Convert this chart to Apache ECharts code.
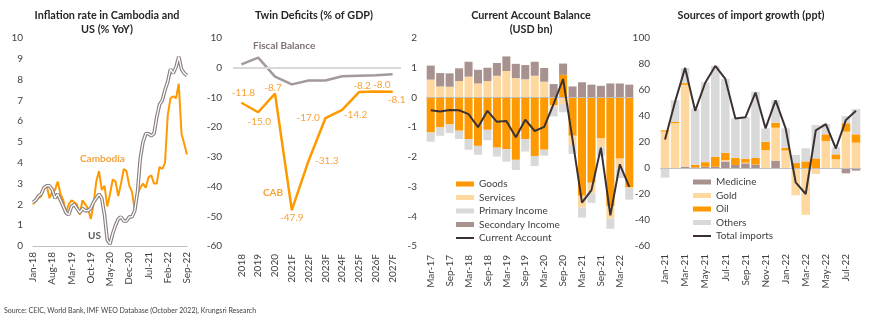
<!DOCTYPE html>
<html><head><meta charset="utf-8">
<script src="https://cdn.jsdelivr.net/npm/echarts@6/dist/echarts.min.js"></script>
<style>html,body{margin:0;padding:0;background:#fff}#c{width:870px;height:322px}</style>
</head><body><div id="c"></div>
<script>
// ---------- Panel 1: inflation ----------
const months1 = ['Jan-18','Feb-18','Mar-18','Apr-18','May-18','Jun-18','Jul-18','Aug-18','Sep-18','Oct-18','Nov-18','Dec-18',
'Jan-19','Feb-19','Mar-19','Apr-19','May-19','Jun-19','Jul-19','Aug-19','Sep-19','Oct-19','Nov-19','Dec-19',
'Jan-20','Feb-20','Mar-20','Apr-20','May-20','Jun-20','Jul-20','Aug-20','Sep-20','Oct-20','Nov-20','Dec-20',
'Jan-21','Feb-21','Mar-21','Apr-21','May-21','Jun-21','Jul-21','Aug-21','Sep-21','Oct-21','Nov-21','Dec-21',
'Jan-22','Feb-22','Mar-22','Apr-22','May-22','Jun-22','Jul-22','Aug-22','Sep-22'];
const cambodiaCPI = [2.0,2.2,2.3,2.4,2.8,2.9,2.3,2.6,2.7,3.1,2.5,2.2,
 1.6,2.0,2.2,2.1,2.0,1.5,2.2,2.0,1.8,1.3,2.0,3.1,
 3.6,2.7,2.9,1.9,2.5,3.2,3.1,2.4,3.0,3.7,3.6,2.9,
 2.6,1.7,2.5,2.8,3.0,2.8,3.3,3.4,3.0,3.0,3.8,3.7,
 4.0,6.3,7.1,7.2,7.1,7.8,5.4,4.9,4.4];
const usCPI = [2.1,2.2,2.4,2.5,2.8,2.9,2.9,2.7,2.3,2.5,2.2,1.9,
 1.6,1.5,1.9,2.0,1.8,1.6,1.8,1.7,1.7,1.8,2.1,2.3,
 2.5,2.3,1.5,0.3,0.1,0.6,1.0,1.3,1.4,1.2,1.2,1.4,
 1.4,1.7,2.6,4.2,5.0,5.4,5.4,5.3,5.4,6.2,6.8,7.0,
 7.5,7.9,8.5,8.3,8.6,9.1,8.5,8.3,8.2];

// ---------- Panel 2: twin deficits ----------
const years2 = ['2018','2019','2020','2021F','2022F','2023F','2024F','2025F','2026F','2027F'];
const fiscalBalance = [1.1,3.4,-3.0,-5.6,-4.3,-4.3,-2.9,-2.7,-2.5,-2.2];
const cab = [-11.8,-15.0,-8.7,-47.9,-31.3,-17.0,-14.2,-8.2,-8.0,-8.1];

// ---------- Panel 3: current account ----------
const quarters3 = ['Mar-17','Jun-17','Sep-17','Dec-17','Mar-18','Jun-18','Sep-18','Dec-18','Mar-19','Jun-19','Sep-19','Dec-19',
'Mar-20','Jun-20','Sep-20','Dec-20','Mar-21','Jun-21','Sep-21','Dec-21','Mar-22','Jun-22'];
const goods = [-1.18,-1.01,-0.91,-1.12,-1.40,-1.63,-1.09,-1.69,-1.74,-2.10,-1.40,-1.97,-1.76,-0.26,0.76,-1.29,-3.31,-2.87,-1.38,-3.65,-2.06,-3.03];
const services = [0.60,0.37,0.36,0.55,0.70,0.47,0.55,0.73,0.89,0.65,0.61,0.73,0.53,-0.08,-0.22,-0.31,-0.39,-0.34,-0.30,-0.43,-0.33,-0.02];
const primaryIncome = [-0.31,-0.28,-0.29,-0.28,-0.36,-0.30,-0.35,-0.30,-0.42,-0.34,-0.42,-0.34,-0.20,-0.30,-0.28,-0.30,-0.34,-0.34,-0.30,-0.34,-0.32,-0.39];
const secondaryIncome = [0.47,0.45,0.45,0.43,0.50,0.46,0.45,0.43,0.49,0.48,0.48,0.47,0.46,0.45,0.38,0.37,0.51,0.43,0.39,0.47,0.47,0.43];
const currentAccount = [-0.43,-0.47,-0.42,-0.43,-0.56,-1.00,-0.45,-0.82,-0.79,-1.34,-0.75,-1.13,-0.99,-0.22,0.62,-1.42,-3.54,-3.12,-1.69,-3.97,-2.25,-3.01];

// ---------- Panel 4: import growth ----------
const months4 = ['Jan-21','Feb-21','Mar-21','Apr-21','May-21','Jun-21','Jul-21','Aug-21','Sep-21','Oct-21','Nov-21','Dec-21',
'Jan-22','Feb-22','Mar-22','Apr-22','May-22','Jun-22','Jul-22','Aug-22'];
const medicine = [0,0,1,0.5,1,1,5,2.3,3.6,2.6,0,5.6,0,0,0,0,0,0,-4.1,-2];
const gold = [28,34.4,63,0,0,0,1,0,0.5,0,13.8,25.4,13.5,-21,-36,-4.6,20.8,6.7,28,19.5];
const oil = [1,1,1.3,2,3.5,7.7,5.6,5.6,3,5.1,6.4,3.8,2,3.8,5.1,7.4,5.1,3.8,6.4,6.4];
const others = [-7.4,16.7,11.5,43,61.5,69.7,56.9,30.3,32,51,10.3,17.4,15,6.2,10.1,25.6,8,5.4,5.6,19.5];
const totalImports = [22,51,77,44,65.6,78.5,68.5,38,39,58,30.5,52,30.5,-11,-20,29,33.8,15,37,44];

// ---------- styling ----------
const F = 'Lato';
const ORANGE = '#ff9900', PEACH = '#ffd8a0', LGRAY = '#d9d9d9', MAUVE = '#a8928f', DARK = '#3b3131';
const txt = '#404040';
const G = [
  {left:33, top:38, width:154, height:208},
  {left:233, top:38, width:168, height:208},
  {left:426, top:38, width:208, height:208},
  {left:660, top:38, width:201, height:208}
];
function xAx(i, data, interval, margin, bg){
  return {type:'category', gridIndex:i, data:data, boundaryGap:bg,
    axisLine:{show:i===0, lineStyle:{color:'#bfbfbf', width:1}}, axisTick:{show:false},
    axisLabel:{rotate:90, interval:interval, margin:margin, fontSize:10, color:txt, fontFamily:F}};
}
function yAx(i, min, max, interval, margin){
  return {type:'value', gridIndex:i, min:min, max:max, interval:interval,
    axisLine:{show:false}, axisTick:{show:false}, splitLine:{show:false},
    axisLabel:{margin:margin, fontSize:10, color:txt, fontFamily:F}};
}
function zeroLine(color, width){
  return {silent:true, symbol:['none','none'], label:{show:false}, lineStyle:{color:color, width:width, type:'solid'}, data:[{yAxis:0}]};
}
const cabPos = ['top','bottom','top','bottom','right','left','right','top','top','bottom'];
const cabOff = [[2,0],[1,0],[-2,0],[0,0],[0,0],[0,0],[0,5],[3,0],[6,0],[4,0]];
const cabDist = [4,4,0,2,6,5,1,1,1,2];

const barStack = (name, data, color, xi, stack) => ({name, type:'bar', xAxisIndex:xi, yAxisIndex:xi, stack, data,
  itemStyle:{color}, barCategoryGap:'15%', emphasis:{disabled:true}});
const lineLegend = name => ({name, itemStyle:{opacity:0}});

const option = {
  animation:false,
  textStyle:{fontFamily:F},
  title:[
    {text:'Inflation rate in Cambodia and\nUS (% YoY)', left:102, top:4, textAlign:'center', textStyle:{fontSize:10.8, fontWeight:'bold', color:'#262626', lineHeight:14, fontFamily:F}},
    {text:'Twin Deficits (% of GDP)', left:309, top:4, textAlign:'center', textStyle:{fontSize:10.8, fontWeight:'bold', color:'#262626', lineHeight:14, fontFamily:F}},
    {text:'Current Account Balance\n(USD bn)', left:526, top:4, textAlign:'center', textStyle:{fontSize:10.8, fontWeight:'bold', color:'#262626', lineHeight:14, fontFamily:F}},
    {text:'Sources of import growth (ppt)', left:746, top:4, textAlign:'center', textStyle:{fontSize:10.8, fontWeight:'bold', color:'#262626', lineHeight:14, fontFamily:F}}
  ],
  legend:[
    {data:[{name:'Goods',icon:'rect'},{name:'Services',icon:'rect'},{name:'Primary Income',icon:'rect'},{name:'Secondary Income',icon:'rect'},lineLegend('Current Account')],
     orient:'vertical', left:450, top:173, itemWidth:18, itemHeight:5, itemGap:1.5, selectedMode:false,
     textStyle:{fontSize:10, color:txt, lineHeight:12, fontFamily:F}},
    {data:[{name:'Medicine',icon:'rect'},{name:'Gold',icon:'rect'},{name:'Oil',icon:'rect'},{name:'Others',icon:'rect'},lineLegend('Total imports')],
     orient:'vertical', left:687, top:171, itemWidth:18, itemHeight:5, itemGap:1.5, selectedMode:false,
     textStyle:{fontSize:10, color:txt, lineHeight:12, fontFamily:F}}
  ],
  grid:G,
  xAxis:[xAx(0, months1, 6, 6, false), xAx(1, years2, 0, 8, true), xAx(2, quarters3, 1, 9, true), xAx(3, months4, 1, 8, true)],
  yAxis:[yAx(0,0,10,1,10), yAx(1,-60,10,10,11), yAx(2,-5,2,1,9), yAx(3,-60,100,20,10)],
  series:[
    // panel 1
    {name:'Cambodia', type:'line', xAxisIndex:0, yAxisIndex:0, data:cambodiaCPI, symbol:'none', lineStyle:{color:ORANGE, width:2}, z:3},
    {name:'US', type:'line', xAxisIndex:0, yAxisIndex:0, data:usCPI, symbol:'none', lineStyle:{color:'#8a7f7f', width:3.6}, z:4},
    {name:'US_inner', type:'line', xAxisIndex:0, yAxisIndex:0, data:usCPI, symbol:'none', lineStyle:{color:'#ffffff', width:1.3}, z:5},
    // panel 2
    {name:'Fiscal Balance', type:'line', xAxisIndex:1, yAxisIndex:1, data:fiscalBalance, symbol:'none', lineStyle:{color:'#a39999', width:2.5}, z:3,
     markLine:zeroLine('#d9d9d9', 2)},
    {name:'CAB', type:'line', xAxisIndex:1, yAxisIndex:1, symbol:'circle', symbolSize:1, showSymbol:true, showAllSymbol:true,
     itemStyle:{color:ORANGE}, lineStyle:{color:ORANGE, width:2.5}, z:4,
     data:cab.map((v,i)=>({value:v, label:{show:true, position:cabPos[i], offset:cabOff[i], distance:cabDist[i]}})),
     label:{show:true, color:'#f7a23b', fontSize:10, fontFamily:F, formatter:p=>Number(p.value).toFixed(1)}},
    // panel 3
    Object.assign(barStack('Goods', goods, ORANGE, 2, 'ca'), {markLine:zeroLine('#bfbfbf', 1)}),
    barStack('Services', services, PEACH, 2, 'ca'),
    barStack('Primary Income', primaryIncome, LGRAY, 2, 'ca'),
    barStack('Secondary Income', secondaryIncome, MAUVE, 2, 'ca'),
    {name:'Current Account', type:'line', xAxisIndex:2, yAxisIndex:2, data:currentAccount, symbol:'none', lineStyle:{color:DARK, width:2}, itemStyle:{color:DARK}, z:5},
    // panel 4
    Object.assign(barStack('Medicine', medicine, MAUVE, 3, 'im'), {markLine:zeroLine('#bfbfbf', 1)}),
    barStack('Gold', gold, PEACH, 3, 'im'),
    barStack('Oil', oil, ORANGE, 3, 'im'),
    barStack('Others', others, LGRAY, 3, 'im'),
    {name:'Total imports', type:'line', xAxisIndex:3, yAxisIndex:3, data:totalImports, symbol:'none', lineStyle:{color:DARK, width:2}, itemStyle:{color:DARK}, z:5}
  ],
  graphic:[
    {type:'text', left:80, top:154, style:{text:'Cambodia', fill:'#f7a23b', font:'bold 10px Lato'}},
    {type:'text', left:88, top:231, style:{text:'US', fill:'#595959', font:'bold 10px Lato'}},
    {type:'text', left:253, top:41, style:{text:'Fiscal Balance', fill:'#7f7373', font:'bold 10px Lato'}},
    {type:'text', left:263, top:188, style:{text:'CAB', fill:'#f7a23b', font:'bold 10px Lato'}},
    {type:'text', left:4, top:307, style:{text:'Source: CEIC, World Bank, IMF WEO Database (October 2022), Krungsri Research', fill:'#404040', font:'7px Lato'}}
  ]
};
const chart = echarts.init(document.getElementById('c'), null, {renderer:'canvas'});
chart.setOption(option);
</script></body></html>
